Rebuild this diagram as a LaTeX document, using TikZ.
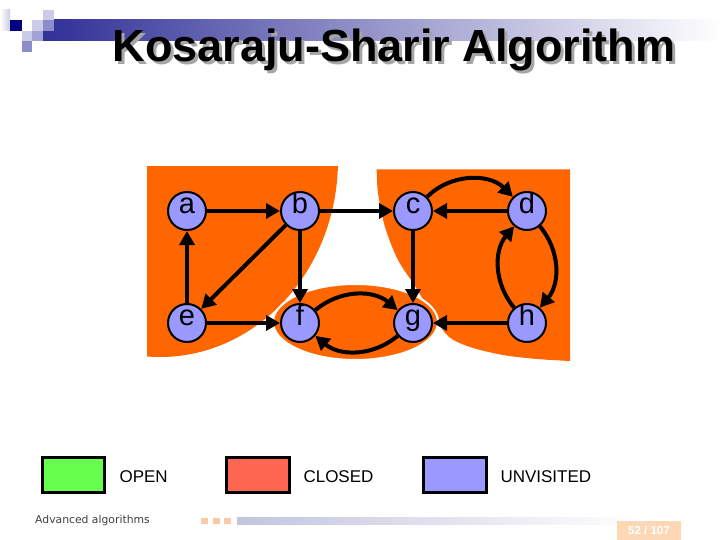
\documentclass[tikz,border=0pt]{standalone}
\usepackage{fontspec}
\setmainfont{Liberation Sans}
\newfontfamily\footfont{DejaVu Sans}
\usetikzlibrary{arrows.meta}
\definecolor{blob}{HTML}{FF6600}
\definecolor{vtxfill}{HTML}{9999FF}
\definecolor{opengreen}{HTML}{66FF4D}
\definecolor{closedred}{HTML}{FF6652}
\definecolor{unvblue}{HTML}{9999FF}
\definecolor{navy}{HTML}{000080}
\definecolor{barnavy}{HTML}{333399}
\definecolor{sqmid}{HTML}{8C8CC8}
\definecolor{sqlight}{HTML}{CCCCE8}
\definecolor{peach}{HTML}{F7CBA6}
\definecolor{pagebox}{HTML}{FCD8B6}
\definecolor{footbar}{HTML}{C4C4DE}
\tikzset{
  vtx/.style={circle, draw=black, line width=2pt, fill=vtxfill, minimum size=38pt, inner sep=0pt,
    font=\fontsize{29}{32}\selectfont, text height=1ex, text depth=0pt},
  edge/.style={line width=4pt, -{Triangle[length=14pt,width=15pt]}},
  legbox/.style={draw=black, line width=3pt},
  legtext/.style={anchor=west, font=\fontsize{17}{20}\selectfont},
}
\newcommand{\titletext}{Kosaraju-Sharir Algorithm}
\begin{document}
\begin{tikzpicture}[x=1pt,y=-1pt]
\useasboundingbox (0,0) rectangle (720,540);
\fill[white] (0,0) rectangle (720,540);
% header decoration
\shade[left color=barnavy, right color=white] (54,20) rectangle (720,41);
\fill[barnavy] (43,31) rectangle (54,41);
\shade[left color=white, right color=sqlight] (0,10) rectangle (10,31);
\fill[navy] (10,20) rectangle (22,31);
\fill[sqlight] (22,31) rectangle (32,41);
\fill[sqmid] (22,41) rectangle (32,52);
\fill[sqlight] (32,20) rectangle (43,31);
\fill[sqmid!80] (32,31) rectangle (43,41);
\fill[sqlight] (43,10) rectangle (54,20);
\fill[sqmid] (43,20) rectangle (54,31);
% title with shadow (one node)
\node[anchor=base, font=\fontsize{45}{50}\selectfont\bfseries] (title) at (394,62)
  {\makebox[0pt][l]{\hspace{3pt}\raisebox{-3pt}{\textcolor{black!35}{\titletext}}}\titletext};
% orange regions
\begin{scope}
  \clip (147,166.7) rectangle (345,365);
  \fill[blob] (160,160) ellipse [x radius=178, y radius=197];
\end{scope}
\fill[blob] (376.7,169.3) -- (570,169.3) -- (570,361)
  plot[smooth] coordinates {(570,361) (537,359) (503,355) (470,347) (448,336) (430,311) (415,286) (398,260) (385,227) (378,193) (376.7,169.3)} -- cycle;
\fill[blob, draw=white, line width=2pt] (355.5,322) ellipse [x radius=82.5, y radius=38];
% vertices
\node[vtx] (a) at (187,211) {a};
\node[vtx] (b) at (300,211) {b};
\node[vtx] (c) at (413,211) {c};
\node[vtx] (d) at (527,211) {d};
\node[vtx] (e) at (187,323) {e};
\node[vtx] (f) at (300,323) {f};
\node[vtx] (g) at (413,323) {g};
\node[vtx] (h) at (527,323) {h};
% edges
\draw[edge] (a) -- (b);
\draw[edge] (b) -- (c);
\draw[edge] (d) -- (c);
\draw[edge] (c) to[bend left=45] (d);
\draw[edge] (d) to[bend left=40] (h);
\draw[edge] (h) to[bend left=40] (d);
\draw[edge] (c) -- (g);
\draw[edge] (h) -- (g);
\draw[edge] (b) -- (e);
\draw[edge] (b) -- (f);
\draw[edge] (e) -- (a);
\draw[edge] (e) -- (f);
\draw[edge] (f) to[bend left=40] (g);
\draw[edge] (g) to[bend left=40] (f);
% legend
\draw[legbox, fill=opengreen] (42,457) rectangle (104,492);
\node[legtext] (opentxt) at (116,476.5) {OPEN};
\draw[legbox, fill=closedred] (226,457) rectangle (289,492);
\node[legtext] (closedtxt) at (300,476.5) {CLOSED};
\draw[legbox, fill=unvblue] (423,457) rectangle (486,492);
\node[legtext] (unvtxt) at (497,476.5) {UNVISITED};
% footer
\node[anchor=west, inner sep=0pt, text=black!75, font=\footfont\fontsize{10.8}{12}\selectfont] (foottxt) at (35,521) {Advanced algorithms};
\fill[peach] (201,518) rectangle (208,524);
\fill[peach] (212.5,518) rectangle (219.5,524);
\fill[peach] (224,518) rectangle (231,524);
\shade[left color=footbar, right color=white] (237,517) rectangle (640,524);
\fill[pagebox] (617,521) rectangle (681,540);
\node[text=white, font=\fontsize{11.5}{13}\selectfont\bfseries, inner sep=0pt] (pageno) at (649,530.5) {52 / 107};
\end{tikzpicture}
\end{document}
